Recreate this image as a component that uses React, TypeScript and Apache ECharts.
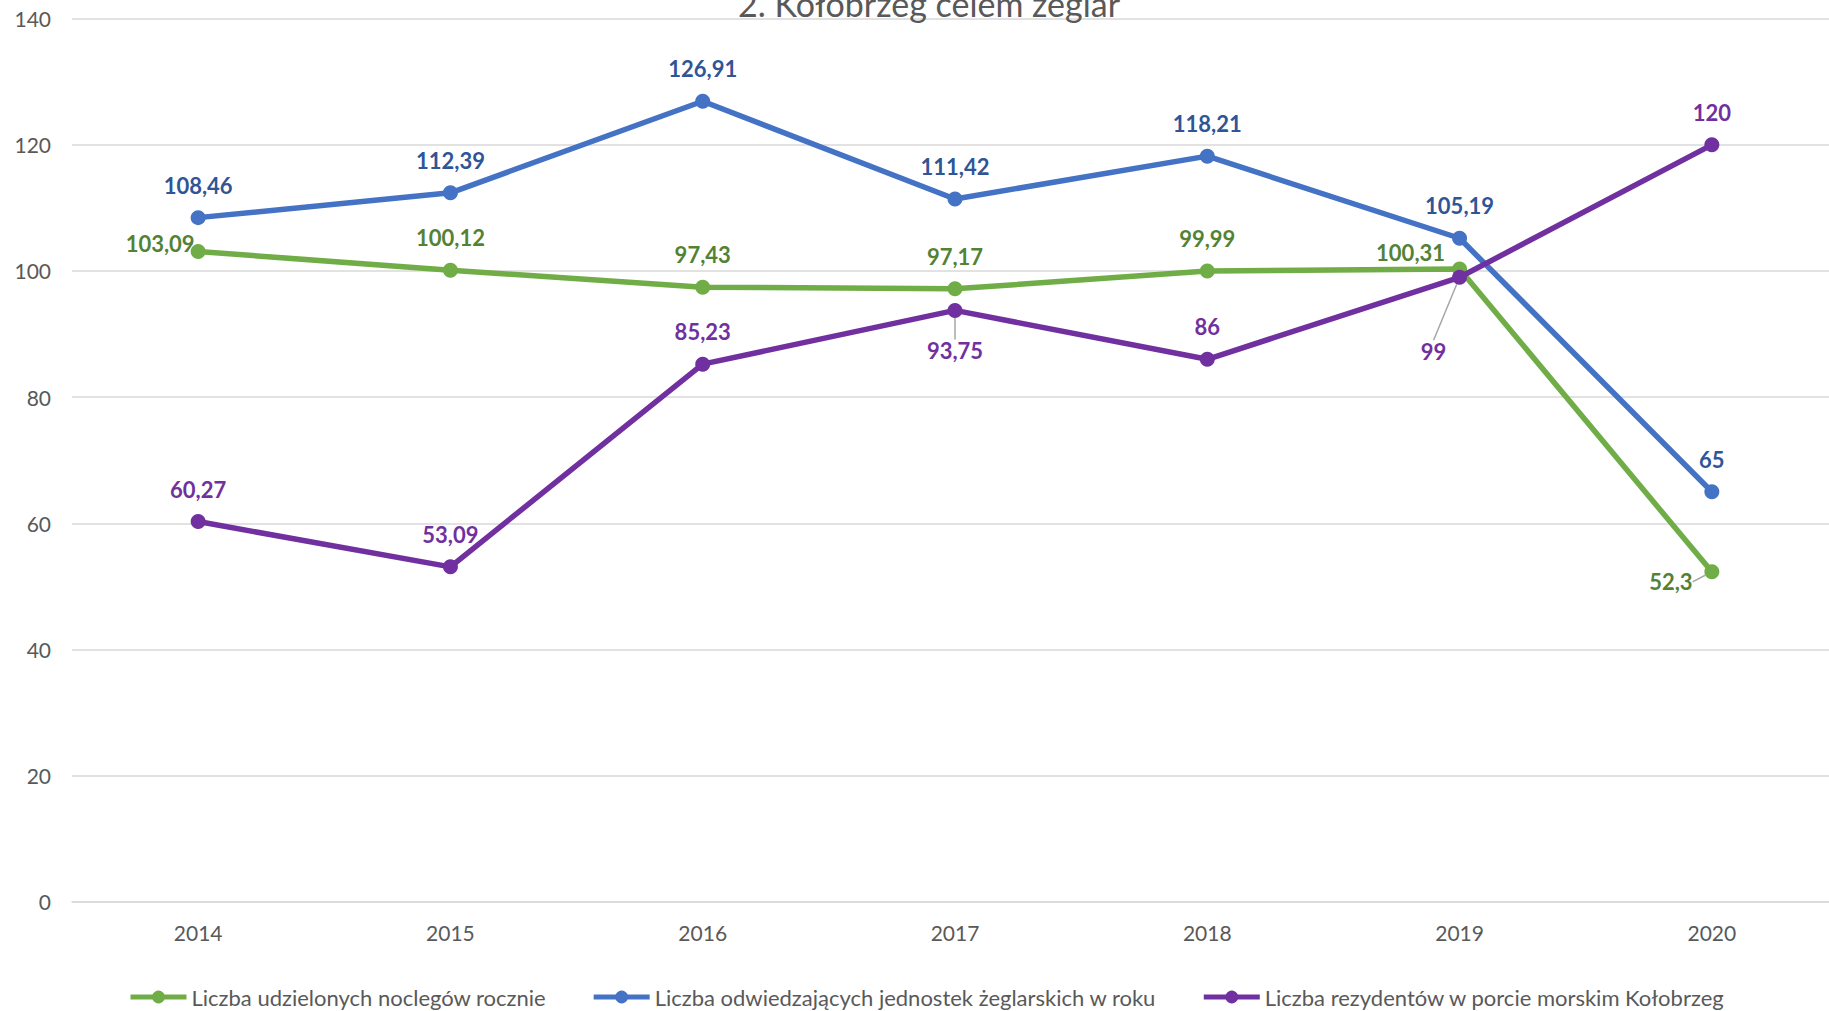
import React, { useEffect, useRef } from "react";
import * as echarts from "echarts";

const categories = ["2014", "2015", "2016", "2017", "2018", "2019", "2020"];
const noclegi = [103.09, 100.12, 97.43, 97.17, 99.99, 100.31, 52.3];
const jednostki = [108.46, 112.39, 126.91, 111.42, 118.21, 105.19, 65];
const rezydenci = [60.27, 53.09, 85.23, 93.75, 86, 99, 120];
const seriesNames = [
  "Liczba udzielonych noclegów rocznie",
  "Liczba odwiedzających jednostek żeglarskich w roku",
  "Liczba rezydentów w porcie morskim Kołobrzeg",
];
const yTicks = [0, 20, 40, 60, 80, 100, 120, 140];
const titleText = "2. Kołobrzeg celem żeglar";

const lineColors = ["#70AD47", "#4472C4", "#7030A0"];
const labelColors = ["#548235", "#2F5597", "#7030A0"];

// label offsets (dx, dy of label centre from point) per series/index
const defaultOffset: [number, number] = [0, -32.5];
const specialOffsets: Record<string, [number, number]> = {
  "0-0": [-38, -8],
  "0-5": [-49, -17],
  "0-6": [-41, 10],
  "2-3": [0, 40],
  "2-5": [-26, 74],
};
const leaderItems = ["0-6", "2-3", "2-5"];

const FONT = "Lato";

export default function App() {
  const ref = useRef<HTMLDivElement>(null);
  useEffect(() => {
    if (!ref.current) return;
    const chart = echarts.init(ref.current, undefined, { renderer: "svg" });
    const allData = [noclegi, jednostki, rezydenci];
    const series = allData.map((vals, si) => ({
      name: seriesNames[si],
      type: "line",
      data: vals.map((v, i) => {
        const key = `${si}-${i}`;
        const item: any = { value: v };
        if (leaderItems.includes(key)) {
          item.labelLine = {
            show: true,
            lineStyle: { color: "#A6A6A6", width: 1.5 },
          };
        }
        return item;
      }),
      symbol: "circle",
      symbolSize: 15,
      color: lineColors[si],
      lineStyle: { width: 5.5, color: lineColors[si] },
      itemStyle: { color: lineColors[si] },
      label: {
        show: true,
        position: "inside",
        color: labelColors[si],
        fontFamily: FONT,
        fontWeight: "bold",
        fontSize: 22,
        formatter: (p: any) => String(p.value).replace(".", ","),
      },
      labelLine: { show: false },
      labelLayout: (p: any) => {
        const off = specialOffsets[`${si}-${p.dataIndex}`] || defaultOffset;
        return { dx: off[0], dy: off[1] };
      },
      z: 2 + si,
    }));

    chart.setOption({
      animation: false,
      backgroundColor: "#ffffff",
      title: {
        text: titleText,
        left: 733,
        top: -19,
        textStyle: {
          fontFamily: FONT,
          fontWeight: "normal",
          fontSize: 34,
          color: "#595959",
        },
      },
      grid: {
        left: 72,
        top: 18.7,
        width: 1766,
        height: 883,
      },
      legend: {
        left: 128,
        top: 984,
        padding: 0,
        itemWidth: 56,
        itemHeight: 16,
        itemGap: 45,
        lineStyle: { width: 5 },
        textStyle: {
          fontFamily: FONT,
          fontSize: 22,
          color: "#595959",
          lineHeight: 26,
        },
        data: seriesNames,
      },
      xAxis: {
        type: "category",
        data: categories,
        boundaryGap: true,
        axisLine: { show: true, lineStyle: { color: "#D9D9D9", width: 1.5 } },
        axisTick: { show: false },
        axisLabel: {
          margin: 20,
          fontFamily: FONT,
          fontSize: 21,
          color: "#595959",
        },
        splitLine: { show: false },
      },
      yAxis: {
        type: "value",
        min: yTicks[0],
        max: yTicks[yTicks.length - 1],
        interval: yTicks[1] - yTicks[0],
        axisLine: { show: false },
        axisTick: { show: false },
        axisLabel: {
          margin: 21,
          fontFamily: FONT,
          fontSize: 21,
          color: "#595959",
        },
        splitLine: { lineStyle: { color: "#D9D9D9", width: 1.5 } },
      },
      series,
    });
    return () => chart.dispose();
  }, []);
  return (
    <div
      style={{
        position: "absolute",
        left: 0,
        top: 0,
        width: 1829,
        height: 1011,
        overflow: "hidden",
      }}
    >
      <div ref={ref} style={{ width: 1840, height: 1011 }} />
    </div>
  );
}
